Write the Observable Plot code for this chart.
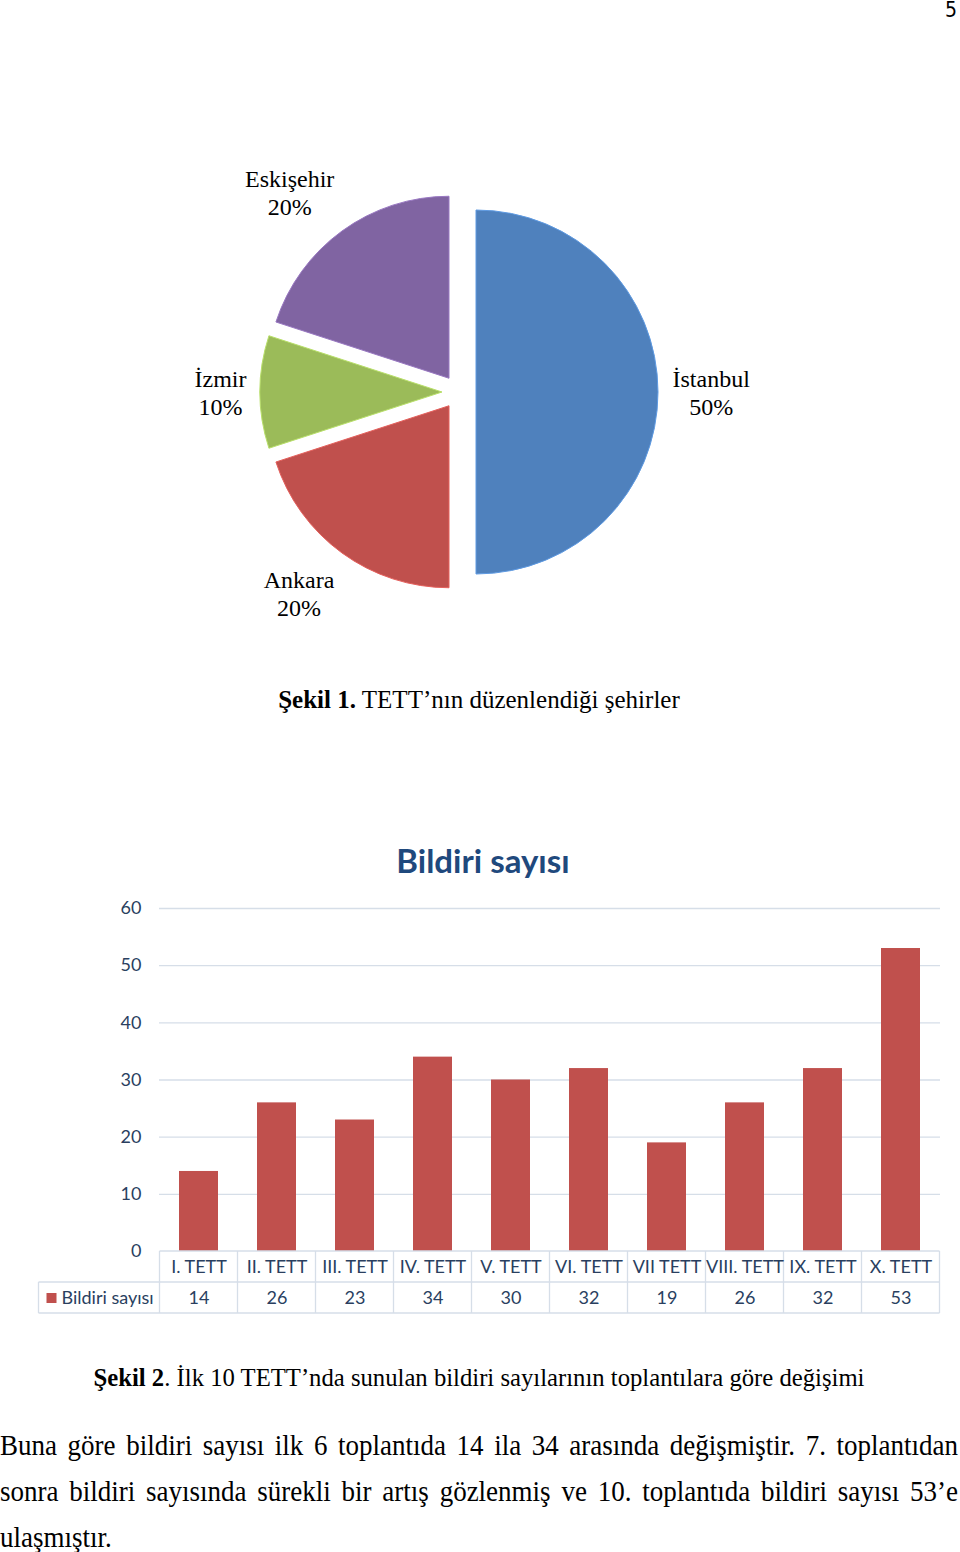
<!DOCTYPE html>
<html>
<head>
<meta charset="utf-8">
<script src="https://cdn.jsdelivr.net/npm/d3@7"></script>
<script src="https://cdn.jsdelivr.net/npm/@observablehq/plot@0.6"></script>
<style>
  html, body { margin: 0; padding: 0; background: #fff; }
  body { width: 960px; height: 1552px; position: relative; overflow: hidden;
         font-family: 'Liberation Serif', 'Times New Roman', serif; color: #000; }
  .abs { position: absolute; }
  #pagenum { right: 3px; top: -4px; font-family: 'DejaVu Sans Condensed', 'DejaVu Sans', sans-serif;
             font-stretch: condensed; font-size: 21px; line-height: 28px; }
  .cap { left: 0; width: 958px; text-align: center; font-size: 25px; line-height: 30px; white-space: nowrap; }
  #cap1 { top: 685px; }
  #cap2 { top: 1363px; font-size: 24.7px; }
  #bartitle { left: 0; width: 966px; text-align: center; top: 840px; font-family: Lato, 'Open Sans', sans-serif;
              font-weight: bold; font-size: 33px; line-height: 40px; color: #1F497D; }
  .para { left: 0; width: 958px; font-size: 27px; line-height: 32px; text-align: justify; text-align-last: justify;
          transform: scaleY(1.07); transform-origin: 0 50%; }
  #p3 { text-align-last: left; }
  #pie { left: 0; top: 0; }
  #bars { left: 0; top: 890px; }
</style>
</head>
<body>
<div id="pagenum" class="abs">5</div>
<div id="pie" class="abs"></div>
<div id="cap1" class="abs cap"><b>Şekil 1.</b> TETT’nın düzenlendiği şehirler</div>
<div id="bartitle" class="abs">Bildiri sayısı</div>
<div id="bars" class="abs"></div>
<div id="cap2" class="abs cap"><b>Şekil 2</b>. İlk 10 TETT’nda sunulan bildiri sayılarının toplantılara göre değişimi</div>
<div id="p1" class="abs para" style="top:1429px">Buna göre bildiri sayısı ilk 6 toplantıda 14 ila 34 arasında değişmiştir. 7. toplantıdan</div>
<div id="p2" class="abs para" style="top:1475px">sonra bildiri sayısında sürekli bir artış gözlenmiş ve 10. toplantıda bildiri sayısı 53’e</div>
<div id="p3" class="abs para" style="top:1521px">ulaşmıştır.</div>
<script>
// ---------- Data ----------
const cities = ["İstanbul", "Ankara", "İzmir", "Eskişehir"];
const cityShares = [50, 20, 10, 20];
const cityColors = ["#4F81BD", "#C0504D", "#9BBB59", "#8064A2"];

const meetings = ["I. TETT", "II. TETT", "III. TETT", "IV. TETT", "V. TETT",
                  "VI. TETT", "VII TETT", "VIII. TETT", "IX. TETT", "X. TETT"];
const paperCounts = [14, 26, 23, 34, 30, 32, 19, 26, 32, 53];
const yTicks = [0, 10, 20, 30, 40, 50, 60];
const seriesName = "Bildiri sayısı";
const barColor = "#C0504D";

// ---------- Pie chart ----------
const PIE = { cx: 459, cy: 392, r: 182, explode: 17, labelR: 213, font: 24, lineH: 28 };
const pieData = cities.map((c, i) => ({ city: c, share: cityShares[i], color: cityColors[i] }));
const arcs = d3.pie().sort(null).value(d => d.share)(pieData);
const dirOf = a => { const m = (a.startAngle + a.endAngle) / 2; return [Math.sin(m), -Math.cos(m)]; };

const ctx = document.createElement("canvas").getContext("2d");
ctx.font = `${PIE.font}px 'Liberation Serif'`;
const pieLabels = arcs.map(a => {
  const [dx, dy] = dirOf(a);
  const lines = [a.data.city, a.data.share + "%"];
  const w = Math.max(...lines.map(l => ctx.measureText(l).width));
  const h = lines.length * PIE.lineH;
  const sx = Math.abs(dx) < 0.2 ? 0 : Math.sign(dx);
  const sy = Math.abs(dy) < 0.2 ? 0 : Math.sign(dy);
  return { x: PIE.cx + PIE.labelR * dx + sx * w / 2, y: PIE.cy + PIE.labelR * dy + sy * h / 2, text: lines.join("\n") };
});

function pieSlices(index, scales) {
  const x = scales.x, y = scales.y;
  const k = x(1) - x(0);
  const arc = d3.arc().innerRadius(0).outerRadius(PIE.r * k);
  const g = d3.create("svg:g");
  for (const a of arcs) {
    const [dx, dy] = dirOf(a);
    g.append("path")
      .attr("d", arc(a))
      .attr("transform", `translate(${x(PIE.cx + PIE.explode * dx)},${y(PIE.cy + PIE.explode * dy)})`)
      .attr("fill", a.data.color)
      .attr("stroke", d3.color(a.data.color).brighter(0.5))
      .attr("stroke-width", 1)
      .attr("stroke-linejoin", "round");
  }
  return g.node();
}

const piePlot = Plot.plot({
  width: 960, height: 660, margin: 0,
  style: { background: "transparent" },
  x: { domain: [0, 960], range: [0, 960], axis: null },
  y: { domain: [0, 660], range: [0, 660], axis: null },
  marks: [
    pieSlices,
    Plot.text(pieLabels, { x: "x", y: "y", text: "text", fontSize: PIE.font, lineHeight: PIE.lineH / PIE.font,
                           fontFamily: "'Liberation Serif', 'Times New Roman', serif", fill: "#000" })
  ]
});
document.getElementById("pie").appendChild(piePlot);

// ---------- Bar chart with data table ----------
const barData = meetings.map((m, i) => ({ meeting: m, count: paperCounts[i] }));
const textColor = "#2a3f5f";
const gridColor = "#d6dee8";
const ROW_H = 31, LEGEND_W = 121;

function tableGrid(index, scales, values, dims) {
  const x = scales.x;
  const step = x(meetings[1]) - x(meetings[0]);
  const bw = typeof x.bandwidth === "function" ? x.bandwidth() : step / 2;
  const y0 = dims.height - dims.marginBottom;
  const bounds = meetings.map(m => x(m) + bw / 2 - step / 2);
  bounds.push(x(meetings[meetings.length - 1]) + bw / 2 + step / 2);
  const left = bounds[0], right = bounds[bounds.length - 1];
  const legendLeft = left - LEGEND_W;
  const g = d3.create("svg:g");
  const lines = g.append("g").attr("stroke", gridColor).attr("stroke-width", 1.3).attr("fill", "none");
  const hl = (x1, x2, yy) => lines.append("line").attr("x1", x1).attr("x2", x2).attr("y1", yy).attr("y2", yy);
  const vl = (xx, y1, y2) => lines.append("line").attr("x1", xx).attr("x2", xx).attr("y1", y1).attr("y2", y2);
  hl(left, right, y0);
  hl(legendLeft, right, y0 + ROW_H);
  hl(legendLeft, right, y0 + 2 * ROW_H);
  for (const b of bounds) vl(b, y0, y0 + 2 * ROW_H);
  vl(legendLeft, y0 + ROW_H, y0 + 2 * ROW_H);
  g.append("rect").attr("x", legendLeft + 8).attr("y", y0 + ROW_H + 11)
    .attr("width", 10).attr("height", 10).attr("fill", barColor);
  return g.node();
}

const barPlot = Plot.plot({
  width: 960, height: 425,
  marginTop: 18, marginLeft: 159, marginRight: 20, marginBottom: 64,
  style: { background: "transparent", fontFamily: "Lato, 'Open Sans', sans-serif", fontSize: "18px", color: textColor },
  x: { domain: meetings, paddingInner: 0.5, paddingOuter: 0.25 },
  y: { domain: [0, 60] },
  marks: [
    Plot.gridY(yTicks.filter(t => t > 0), { stroke: gridColor, strokeOpacity: 1, strokeWidth: 1.3 }),
    Plot.axisY({ ticks: yTicks, tickSize: 0, tickPadding: 18, fontSize: 18, label: null }),
    Plot.barY(barData, { x: "meeting", y: "count", fill: barColor }),
    tableGrid,
    Plot.axisX({ tickSize: 0, tickPadding: 9, fontSize: 18, label: null }),
    Plot.text(barData, { x: "meeting", text: "count", frameAnchor: "bottom", dy: 52, fontSize: 18 }),
    Plot.text([seriesName], { text: d => d, frameAnchor: "bottom-left", dx: -98, dy: 52, textAnchor: "start", fontSize: 18 })
  ]
});
document.getElementById("bars").appendChild(barPlot);
</script>
</body>
</html>
